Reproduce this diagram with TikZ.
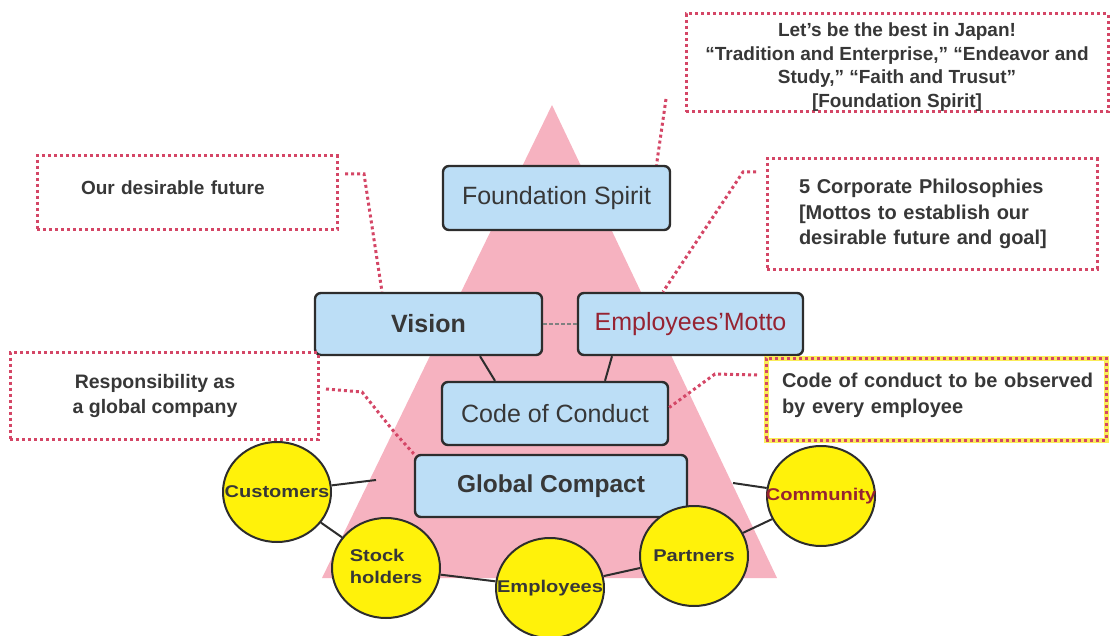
\documentclass[tikz,border=0pt]{standalone}
\usepackage{fontspec}
\setmainfont{Liberation Sans}
\usetikzlibrary{shapes.geometric}
\definecolor{pinktri}{RGB}{246,178,192}
\definecolor{boxblue}{RGB}{188,222,246}
\definecolor{boxline}{RGB}{45,45,45}
\definecolor{txt}{RGB}{55,55,55}
\definecolor{leadred}{RGB}{212,70,102}
\definecolor{darkred}{RGB}{150,35,50}
\definecolor{circyel}{RGB}{255,242,10}
\definecolor{halo}{RGB}{250,236,90}
\newcommand{\stk}[1]{\makebox[0pt]{\scalebox{1.18}[1]{#1}}}
\tikzset{
  mainbox/.style={draw=boxline, line width=2.4pt, fill=boxblue, rounded corners=6pt,
    text=txt, inner sep=0pt, font=\fontsize{25}{30}\selectfont},
  callout/.style={draw=leadred, line width=3pt, dash pattern=on 3pt off 3pt,
    text=txt, inner sep=0pt, font=\bfseries\fontsize{19}{23.5}\selectfont},
  leader/.style={draw=leadred, line width=3pt, dash pattern=on 3pt off 3pt},
  stake/.style={ellipse, draw=boxline, line width=2pt, fill=circyel, text=txt,
    inner sep=0pt, minimum width=108pt, minimum height=100pt,
    font=\bfseries\fontsize{17}{22}\selectfont},
  link/.style={draw=boxline, line width=2pt},
}
\begin{document}
\begin{tikzpicture}[x=1pt,y=-1pt]
\useasboundingbox (0,0) rectangle (1110,636);
% pyramid
\fill[pinktri] (552,105) -- (777,578) -- (322,578) -- cycle;
\coordinate (tl) at (376,480);
\coordinate (tr) at (733,483);

% main boxes
\node[mainbox, minimum width=227pt, minimum height=64pt] (fs) at (556.5,198) {Foundation Spirit};
\node[mainbox, minimum width=227pt, minimum height=62pt, font=\bfseries\fontsize{25}{30}\selectfont] (vision) at (428.5,324) {Vision};
\node[mainbox, minimum width=225pt, minimum height=62pt, text=darkred] (motto) at (690.5,324) {Employees’Motto};
\node[mainbox, minimum width=226pt, minimum height=63pt] (coc) at (555,413.5) {Code of Conduct};
\node[mainbox, minimum width=272pt, minimum height=62pt, font=\bfseries\fontsize{24.5}{30}\selectfont] (gc) at (551,486) {Global Compact};

\draw[gray, line width=1.5pt, dash pattern=on 4pt off 2pt] (vision) -- (motto);
\draw[link] ([xshift=51.5pt]vision.south) -- ([xshift=-60pt]coc.north);
\draw[link] ([xshift=-78.5pt]motto.south) -- ([xshift=50pt]coc.north);

% callouts
\node[callout, minimum width=422pt, minimum height=98pt, align=center] (top) at (897,63)
  {\rule{0pt}{22pt}Let’s be the best in Japan!\\ “Tradition and Enterprise,” “Endeavor and\\ Study,” “Faith and Trusut”\\ {[}Foundation Spirit{]}};
\node[callout, minimum width=300pt, minimum height=74pt, text width=280pt, align=left] (odf) at (187,193)
  {\hspace*{34pt}Our desirable future\rule[-10pt]{0pt}{10pt}};
\node[callout, minimum width=330pt, minimum height=110pt, text width=266pt, align=left,
  font=\bfseries\fontsize{20}{25.5}\selectfont] (phil) at (932,214)
  {5 Corporate Philosophies\\ {[}Mottos to establish our\\ desirable future and goal{]}};
\node[callout, minimum width=308pt, minimum height=87pt, align=center,
  font=\bfseries\fontsize{19.5}{25}\selectfont] (resp) at (164,396)
  {\hspace*{-18pt}Responsibility as\\ \hspace*{-18pt}a global company};
\draw[halo, line width=5pt] (766,358) rectangle (1106,440);
\node[callout, minimum width=340pt, minimum height=82pt, text width=324pt, align=left,
  font=\bfseries\fontsize{20}{26}\selectfont] (cond) at (936,399)
  {\hspace*{8pt}Code of conduct to be observed\\ \hspace*{8pt}by every employee\rule[-12pt]{0pt}{12pt}};

% leaders
\coordinate (t1) at (666,99);
\draw[leader] (t1) -- ([xshift=100pt]fs.north);
\coordinate (o1) at (345,174);
\coordinate (o2) at (364,174);
\draw[leader] (o1) -- (o2) -- ([xshift=-46.5pt]vision.north);
\coordinate (p1) at (756,172);
\coordinate (p2) at (743,172);
\draw[leader] (p1) -- (p2) -- ([xshift=-27.5pt]motto.north);
\coordinate (r1) at (326,389);
\coordinate (r2) at (362,392);
\coordinate (r3) at (395,433);
\draw[leader] (r1) -- (r2) -- (r3) -- (gc.north west);
\coordinate (c1) at (757,375);
\coordinate (c2) at (715,374);
\draw[leader] (c1) -- (c2) -- ([yshift=6pt]coc.east);

% stakeholders
\node[stake] (cust) at (277,492) {\stk{Customers}};
\node[stake] (stock) at (386,568) {\stk{\begin{tabular}{@{}l@{}}Stock\\holders\end{tabular}}};
\node[stake] (emp) at (550,588) {\stk{Employees}};
\node[stake] (part) at (694,556) {\stk{Partners}};
\node[stake, text=darkred] (comm) at (821,496) {\stk{Community}};

\draw[link] (cust) -- (tl);
\draw[link] (cust) -- (stock);
\draw[link] (stock) -- (emp);
\draw[link] (emp) -- (part);
\draw[link] (part) -- (comm);
\draw[link] (comm) -- (tr);
\end{tikzpicture}
\end{document}
